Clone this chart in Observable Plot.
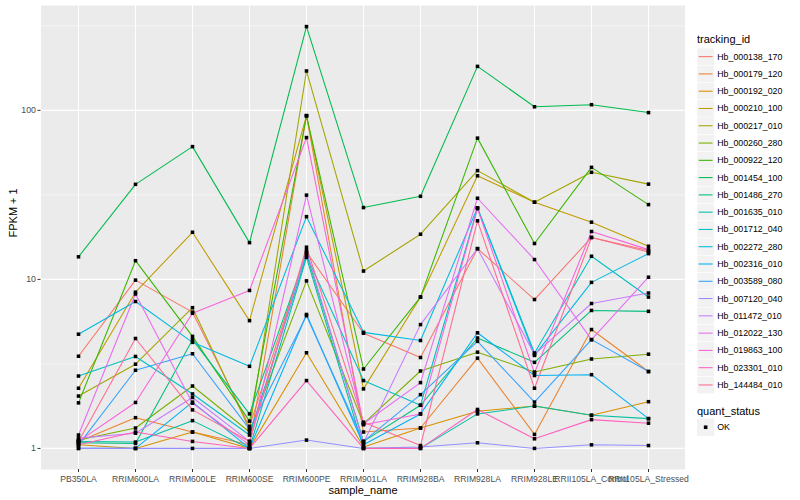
<!DOCTYPE html>
<html><head><meta charset="utf-8">
<script src="https://cdn.jsdelivr.net/npm/d3@7"></script>
<script src="https://cdn.jsdelivr.net/npm/@observablehq/plot@0.6"></script>
<style>
body{margin:0;background:#fff;}
#wrap{position:relative;width:800px;height:500px;font-family:"Liberation Sans",Arial,Helvetica,sans-serif;}
#chart{position:absolute;left:0;top:0;}
#legend{position:absolute;left:690px;top:0;}
</style></head><body>
<div id="wrap"><div id="chart"></div><svg id="legend" width="110" height="500"></svg></div>
<script>
const samples = ["PB350LA","RRIM600LA","RRIM600LE","RRIM600SE","RRIM600PE","RRIM901LA","RRIM928BA","RRIM928LA","RRIM928LE","RRII105LA_Control","RRII105LA_Stressed"];
const trackingIds = ["Hb_000138_170","Hb_000179_120","Hb_000192_020","Hb_000210_100","Hb_000217_010","Hb_000260_280","Hb_000922_120","Hb_001454_100","Hb_001486_270","Hb_001635_010","Hb_001712_040","Hb_002272_280","Hb_002316_010","Hb_003589_080","Hb_007120_040","Hb_011472_010","Hb_012022_130","Hb_019863_100","Hb_023301_010","Hb_144484_010"];
const colors = ["#F8766D","#EA8331","#D89000","#C09B00","#A3A500","#7CAE00","#39B600","#00BB4E","#00BF7D","#00C1A3","#00BFC4","#00BAE0","#00B0F6","#35A2FF","#9590FF","#C77CFF","#E76BF3","#FA62DB","#FF62BC","#FF6C91"];

const hb000138_170 = [3.51, 9.9, 6.4, 1.35, 14.5, 4.8, 3.45, 15.2, 7.6, 17.7, 14.8];
const hb000179_120 = [1.1, 1.52, 1.25, 1.05, 93, 1.25, 1.32, 3.42, 1.21, 5.05, 2.85];
const hb000192_020 = [1.05, 1.0, 1.25, 1.0, 3.68, 1.02, 1.32, 1.66, 1.78, 1.57, 1.89];
const hb000210_100 = [2.27, 8.4, 19, 5.7, 93, 2.25, 7.86, 41, 28.6, 21.8, 15.7];
const hb000217_010 = [2.04, 3.15, 6.8, 1.3, 171, 11.2, 18.5, 44, 28.6, 43, 36.6];
const hb000260_280 = [1.12, 1.32, 2.34, 1.25, 9.8, 1.4, 2.87, 3.71, 2.83, 3.38, 3.61];
const hb000922_120 = [1.86, 12.9, 4.6, 1.45, 93, 2.95, 7.86, 68.5, 16.3, 46, 27.7];
const hb001454_100 = [13.6, 36.5, 61, 16.5, 313, 26.6, 31, 182, 105, 108, 97];
const hb001486_270 = [1.08, 1.07, 4.4, 1.6, 14.2, 1.1, 1.8, 4.5, 3.23, 6.55, 6.47];
const hb001635_010 = [1.1, 1.09, 1.46, 1.0, 13.5, 1.0, 1.0, 1.6, 1.78, 1.57, 1.5];
const hb001712_040 = [2.68, 3.5, 2.1, 1.2, 13.8, 2.52, 1.8, 26.5, 3.67, 13.7, 7.86];
const hb002272_280 = [4.74, 7.4, 4.24, 3.06, 23.5, 4.86, 4.35, 26.5, 3.55, 9.6, 14.2];
const hb002316_010 = [1.0, 1.0, 1.88, 1.0, 6.2, 1.05, 1.6, 4.83, 2.7, 2.73, 1.5];
const hb003589_080 = [1.05, 2.9, 3.63, 1.3, 6.1, 1.1, 2.08, 4.3, 1.88, 4.4, 2.85];
const hb007120_040 = [1.0, 1.0, 1.0, 1.0, 1.12, 1.0, 1.02, 1.08, 1.0, 1.05, 1.04];
const hb011472_010 = [1.15, 1.23, 2.0, 1.1, 14.8, 1.08, 5.4, 15.2, 3.6, 7.2, 8.3];
const hb012022_130 = [1.2, 8.2, 1.85, 1.05, 31.5, 1.4, 2.45, 30.2, 13.1, 4.4, 10.3];
const hb019863_100 = [1.1, 1.87, 6.3, 8.6, 69, 1.38, 1.6, 26.2, 2.8, 19.2, 15];
const hb023301_010 = [1.05, 1.25, 1.1, 1.0, 2.52, 1.0, 1.0, 1.7, 1.14, 1.48, 1.41];
const hb144484_010 = [1.1, 4.47, 1.69, 1.1, 15.5, 1.43, 1.04, 22.2, 2.27, 17.7, 14.5];

const seriesValues = [hb000138_170, hb000179_120, hb000192_020, hb000210_100, hb000217_010, hb000260_280, hb000922_120, hb001454_100, hb001486_270, hb001635_010, hb001712_040, hb002272_280, hb002316_010, hb003589_080, hb007120_040, hb011472_010, hb012022_130, hb019863_100, hb023301_010, hb144484_010];
const yMajor = [1, 10, 100];
const yMinor = [Math.sqrt(10), Math.sqrt(1000), Math.sqrt(100000)];
const legendTitle = "tracking_id";
const statusTitle = "quant_status";
const statusLabel = "OK";

const rows = [];
trackingIds.forEach((id, i) => seriesValues[i].forEach((v, j) => rows.push({id, sample: samples[j], value: v, status: "OK"})));

const lo = Math.log10(d3.min(rows, d => d.value)), hi = Math.log10(d3.max(rows, d => d.value));
const pad = (hi - lo) * 0.05;
const yDomain = [Math.pow(10, lo - pad), Math.pow(10, hi + pad)];

const font = "'Liberation Sans', Arial, Helvetica, sans-serif";
const chart = Plot.plot({
  width: 690, height: 500,
  marginLeft: 40.5, marginRight: 5.5, marginTop: 5, marginBottom: 31,
  style: {fontFamily: font, background: "white", color: "#4D4D4D"},
  x: {type: "point", domain: samples, padding: 0.6},
  y: {type: "log", domain: yDomain},
  color: {domain: trackingIds, range: colors},
  marks: [
    Plot.frame({fill: "#EBEBEB", stroke: null}),
    Plot.ruleY(yMinor, {stroke: "white", strokeWidth: 0.53}),
    Plot.ruleY(yMajor, {stroke: "white", strokeWidth: 1.07}),
    Plot.ruleX(samples, {stroke: "white", strokeWidth: 1.07}),
    Plot.lineY(rows, {x: "sample", y: "value", z: "id", stroke: "id", strokeWidth: 1.07}),
    Plot.dot(rows, {x: "sample", y: "value", symbol: "square", r: 2.0, fill: "black", stroke: null}),
    Plot.axisX({label: null, tickSize: 3, tickPadding: 3, fontSize: 8.6}),
    Plot.axisY({label: null, ticks: yMajor, tickFormat: d => String(d), tickSize: 3, tickPadding: 2, fontSize: 8.8}),
    Plot.text(["sample_name"], {frameAnchor: "bottom", dy: 24, text: d => d, fontSize: 11, fill: "black"}),
    Plot.text(["FPKM + 1"], {frameAnchor: "left", dx: -27.5, rotate: -90, text: d => d, fontSize: 11, fill: "black"})
  ]
});
document.getElementById("chart").appendChild(chart);
d3.select(chart).selectAll('g[aria-label="x-axis tick"], g[aria-label="y-axis tick"]').attr("stroke", "#333333");

// legend
const lg = d3.select("#legend").style("font-family", font);
const kx = 7, k = 17.28, top0 = 48;
lg.append("text").attr("x", kx).attr("y", 39).attr("dominant-baseline", "central").attr("font-size", 11).attr("fill", "black").text(legendTitle);
trackingIds.forEach((id, i) => {
  const y = top0 + i * k;
  lg.append("rect").attr("x", kx).attr("y", y).attr("width", k).attr("height", k).attr("fill", "#F2F2F2").attr("stroke", "white").attr("stroke-width", 0.5);
  lg.append("line").attr("x1", kx + 1.7).attr("x2", kx + k - 1.7).attr("y1", y + k / 2).attr("y2", y + k / 2).attr("stroke", colors[i]).attr("stroke-width", 1.07);
  lg.append("text").attr("x", kx + k + 3).attr("y", y + k / 2).attr("dominant-baseline", "central").attr("font-size", 8.8).attr("fill", "black").text(id);
});
const sTop = top0 + trackingIds.length * k + 11;
lg.append("text").attr("x", kx).attr("y", sTop + 6.5).attr("dominant-baseline", "central").attr("font-size", 11).attr("fill", "black").text(statusTitle);
const ky = sTop + 14;
lg.append("rect").attr("x", kx).attr("y", ky).attr("width", k).attr("height", k).attr("fill", "#F2F2F2");
lg.append("rect").attr("x", kx + k / 2 - 1.8).attr("y", ky + k / 2 - 1.8).attr("width", 3.6).attr("height", 3.6).attr("fill", "black");
lg.append("text").attr("x", kx + k + 3).attr("y", ky + k / 2).attr("dominant-baseline", "central").attr("font-size", 8.8).attr("fill", "black").text(statusLabel);
</script></body></html>
